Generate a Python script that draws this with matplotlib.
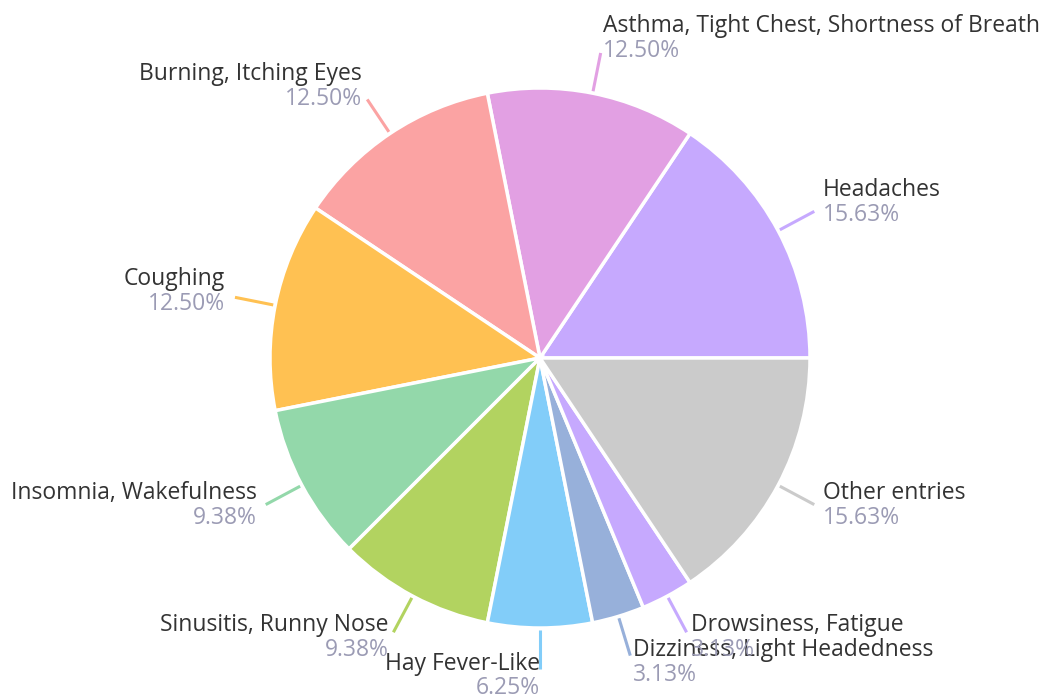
import numpy as np
import matplotlib
matplotlib.use("Agg")
import matplotlib.pyplot as plt
from decimal import Decimal, ROUND_HALF_UP

# datos del grafico (conteos, en orden antihorario desde las 3 en punto)
categorias = ["Headaches", "Asthma, Tight Chest, Shortness of Breath",
              "Burning, Itching Eyes", "Coughing", "Insomnia, Wakefulness",
              "Sinusitis, Runny Nose", "Hay Fever-Like",
              "Dizziness, Light Headedness", "Drowsiness, Fatigue",
              "Other entries"]
conteos = [5, 4, 4, 4, 3, 3, 2, 1, 1, 5]
colores = ["#C6A9FE", "#E2A0E3", "#FBA3A3", "#FFC152", "#93D8AA",
           "#B2D360", "#82CDF9", "#97B0DA", "#C6A9FE", "#CBCBCB"]

W, H = 1050, 695
cx, cy = 540, H - 358
radio = 270

plt.rcParams['font.family'] = ['Open Sans', 'DejaVu Sans']

def porcentaje(n, total):
    v = Decimal(n * 100) / Decimal(total)
    return str(v.quantize(Decimal("0.01"), rounding=ROUND_HALF_UP)) + "%"

fig = plt.figure(figsize=(W / 100, H / 100), dpi=100)
ax = fig.add_axes([0, 0, 1, 1])

wedges, _ = ax.pie(conteos, colors=colores, startangle=0, counterclock=True,
                   center=(cx, cy), radius=radio,
                   wedgeprops=dict(edgecolor='white', linewidth=2.5))

total = sum(conteos)
for w, nombre, n, col in zip(wedges, categorias, conteos, colores):
    ang = np.deg2rad((w.theta1 + w.theta2) / 2)
    c, s = np.cos(ang), np.sin(ang)
    x0, y0 = cx + 272 * c, cy + 272 * s
    x1, y1 = cx + 311 * c, cy + 311 * s
    ax.plot([x0, x1], [y0, y1], color=col, lw=2.2, solid_capstyle='butt')
    tx = x1 + 10 * c
    yb = y1 + 6 + 11 * s
    ha = 'left' if c > 1e-6 else 'right'
    ax.text(tx, yb + 12.5 - 8, nombre, ha=ha, va='baseline',
            fontsize=16.5, color='#333333')
    ax.text(tx, yb - 12.5 - 8, porcentaje(n, total), ha=ha, va='baseline',
            fontsize=16.5, color='#9B9BB4')

ax.set_xlim(0, W)
ax.set_ylim(0, H)
ax.set_aspect('equal')
ax.axis('off')

fig.savefig("out.png", dpi=100)
